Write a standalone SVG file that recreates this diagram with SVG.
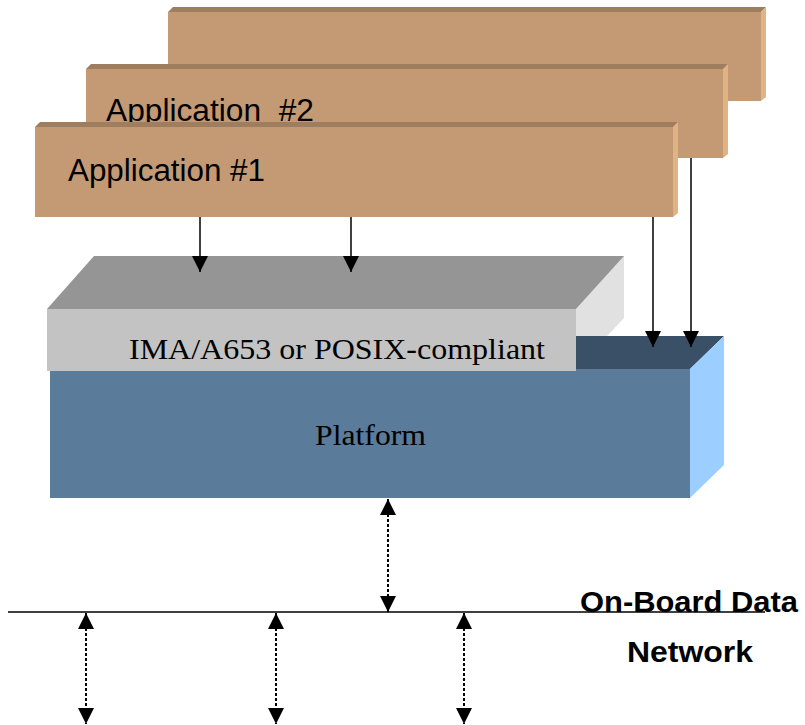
<svg xmlns="http://www.w3.org/2000/svg" width="805" height="725" viewBox="0 0 805 725">
  <style>
    .app-front { fill: #c49a74; }
    .app-top { fill: #9e7e5f; }
    .app-side { fill: #e0b384; }
    .app-label { font-family: "Liberation Sans", Arial, sans-serif; font-size: 31px; fill: #000; }
    .serif-label { font-family: "Liberation Serif", "Times New Roman", serif; font-size: 29px; fill: #000; }
    .net-label { font-family: "Liberation Sans", Arial, sans-serif; font-weight: bold; font-size: 29px; fill: #000; }
    .solid { stroke: #000; stroke-width: 1.5; fill: none; }
    .dotted { stroke: #000; stroke-width: 2; stroke-dasharray: 3 2; fill: none; }
  </style>
  <defs>
    <marker id="head" viewBox="0 0 16 16" refX="16" refY="8" markerWidth="16" markerHeight="16" markerUnits="userSpaceOnUse" orient="auto-start-reverse">
      <path d="M0,0 L16,8 L0,16 Z" fill="#000"/>
    </marker>
  </defs>

  <rect width="805" height="725" fill="#fff"/>

  <!-- Application #3 (rear card) -->
  <g id="app3">
    <polygon class="app-top" points="168,12 173,7 766,7 761,12"/>
    <polygon class="app-side" points="761,12 766,7 766,97 761,101"/>
    <rect class="app-front" x="168" y="12" width="593" height="89"/>
  </g>

  <!-- Application #2 -->
  <g id="app2">
    <polygon class="app-top" points="86,69 91,64 728,64 723,69"/>
    <polygon class="app-side" points="723,69 728,64 728,154 723,158"/>
    <rect class="app-front" x="86" y="69" width="637" height="89"/>
    <text class="app-label" x="106" y="121" textLength="208" lengthAdjust="spacingAndGlyphs" xml:space="preserve">Application  #2</text>
  </g>

  <!-- Application #1 (front card) -->
  <g id="app1">
    <polygon class="app-top" points="35,127 40,122 678,122 673,127"/>
    <polygon class="app-side" points="673,127 678,122 678,213 673,217"/>
    <rect class="app-front" x="35" y="127" width="638" height="90"/>
    <text class="app-label" x="68" y="181" textLength="197" lengthAdjust="spacingAndGlyphs">Application #1</text>
  </g>

  <!-- Platform block -->
  <g id="platform">
    <polygon fill="#e1e1e1" points="576,309 624,256 624,318 607,336 576,336"/>
    <polygon fill="#3a5067" points="50,369 84,336 724,336 690,369"/>
    <polygon fill="#9ccfff" points="690,369 724,336 724,465 690,498"/>
    <rect fill="#5b7b9b" x="50" y="369" width="640" height="129"/>
    <text class="serif-label" x="315" y="445" textLength="111" lengthAdjust="spacingAndGlyphs">Platform</text>
  </g>

  <!-- IMA/A653 or POSIX-compliant layer -->
  <g id="api-layer">
    <polygon fill="#959595" points="47,309 94,256 624,256 576,309"/>
    <rect fill="#c3c3c3" x="47" y="309" width="529" height="62"/>
    <text class="serif-label" x="129" y="359" textLength="416" lengthAdjust="spacingAndGlyphs">IMA/A653 or POSIX-compliant</text>
  </g>

  <!-- On-board data network bus -->
  <g id="network">
    <line class="solid" x1="8" y1="612" x2="765" y2="612"/>
    <text class="net-label" x="580" y="612" textLength="218" lengthAdjust="spacingAndGlyphs">On-Board Data</text>
    <text class="net-label" x="627" y="662" textLength="126" lengthAdjust="spacingAndGlyphs">Network</text>
  </g>

  <!-- Connectors -->
  <g id="connectors">
    <line class="solid" x1="200" y1="217" x2="200" y2="272" marker-end="url(#head)"/>
    <line class="solid" x1="351" y1="217" x2="351" y2="272" marker-end="url(#head)"/>
    <line class="solid" x1="653" y1="217" x2="653" y2="347" marker-end="url(#head)"/>
    <line class="solid" x1="691" y1="158" x2="691" y2="347" marker-end="url(#head)"/>

    <line class="dotted" x1="388" y1="499" x2="388" y2="612" marker-start="url(#head)" marker-end="url(#head)"/>
    <line class="dotted" x1="86" y1="613" x2="86" y2="724" marker-start="url(#head)" marker-end="url(#head)"/>
    <line class="dotted" x1="276" y1="613" x2="276" y2="724" marker-start="url(#head)" marker-end="url(#head)"/>
    <line class="dotted" x1="464" y1="613" x2="464" y2="724" marker-start="url(#head)" marker-end="url(#head)"/>
  </g>
</svg>
